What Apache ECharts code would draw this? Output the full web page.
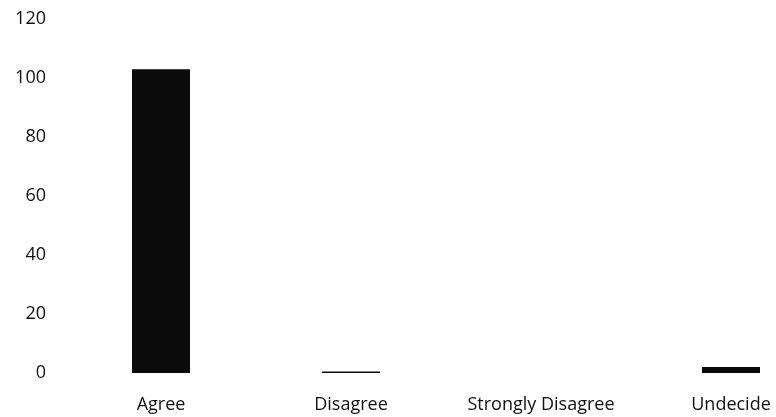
<!DOCTYPE html>
<html>
<head>
<meta charset="utf-8">
<script src="https://cdn.jsdelivr.net/npm/echarts@6/dist/echarts.min.js"></script>
<style>
  html, body { margin: 0; padding: 0; background: #fff; }
  #chart { width: 776px; height: 417px; }
</style>
</head>
<body>
<div id="chart"></div>
<script>
// responses
const categories = ['Agree', 'Disagree', 'Strongly Disagree', 'Undecide']
const counts = [103, 0.5, 0, 2]
const yTicks = [0, 20, 40, 60, 80, 100, 120]

const chart = echarts.init(document.getElementById('chart'))

const option = {
    animation: false,
    textStyle: { fontFamily: 'Open Sans' },
    grid: {
        left: 66,
        top: 19,
        bottom: 44,
        width: 760,
        outerBoundsMode: 'none'
    },
    xAxis: {
        type: 'category',
        data: categories,
        axisLine: { show: false },
        axisTick: { show: false },
        axisLabel: {
            color: '#111',
            fontSize: 18,
            margin: 23,
            interval: 0
        }
    },
    yAxis: {
        type: 'value',
        min: yTicks[0],
        max: yTicks[yTicks.length - 1],
        interval: 20,
        splitLine: { show: false },
        axisLine: { show: false },
        axisTick: { show: false },
        axisLabel: {
            color: '#111',
            fontSize: 18,
            margin: 20
        }
    },
    series: [{
        type: 'bar',
        data: counts,
        barWidth: 58,
        itemStyle: { color: '#0b0b0b' }
    }]
}

chart.setOption(option)
</script>
</body>
</html>
